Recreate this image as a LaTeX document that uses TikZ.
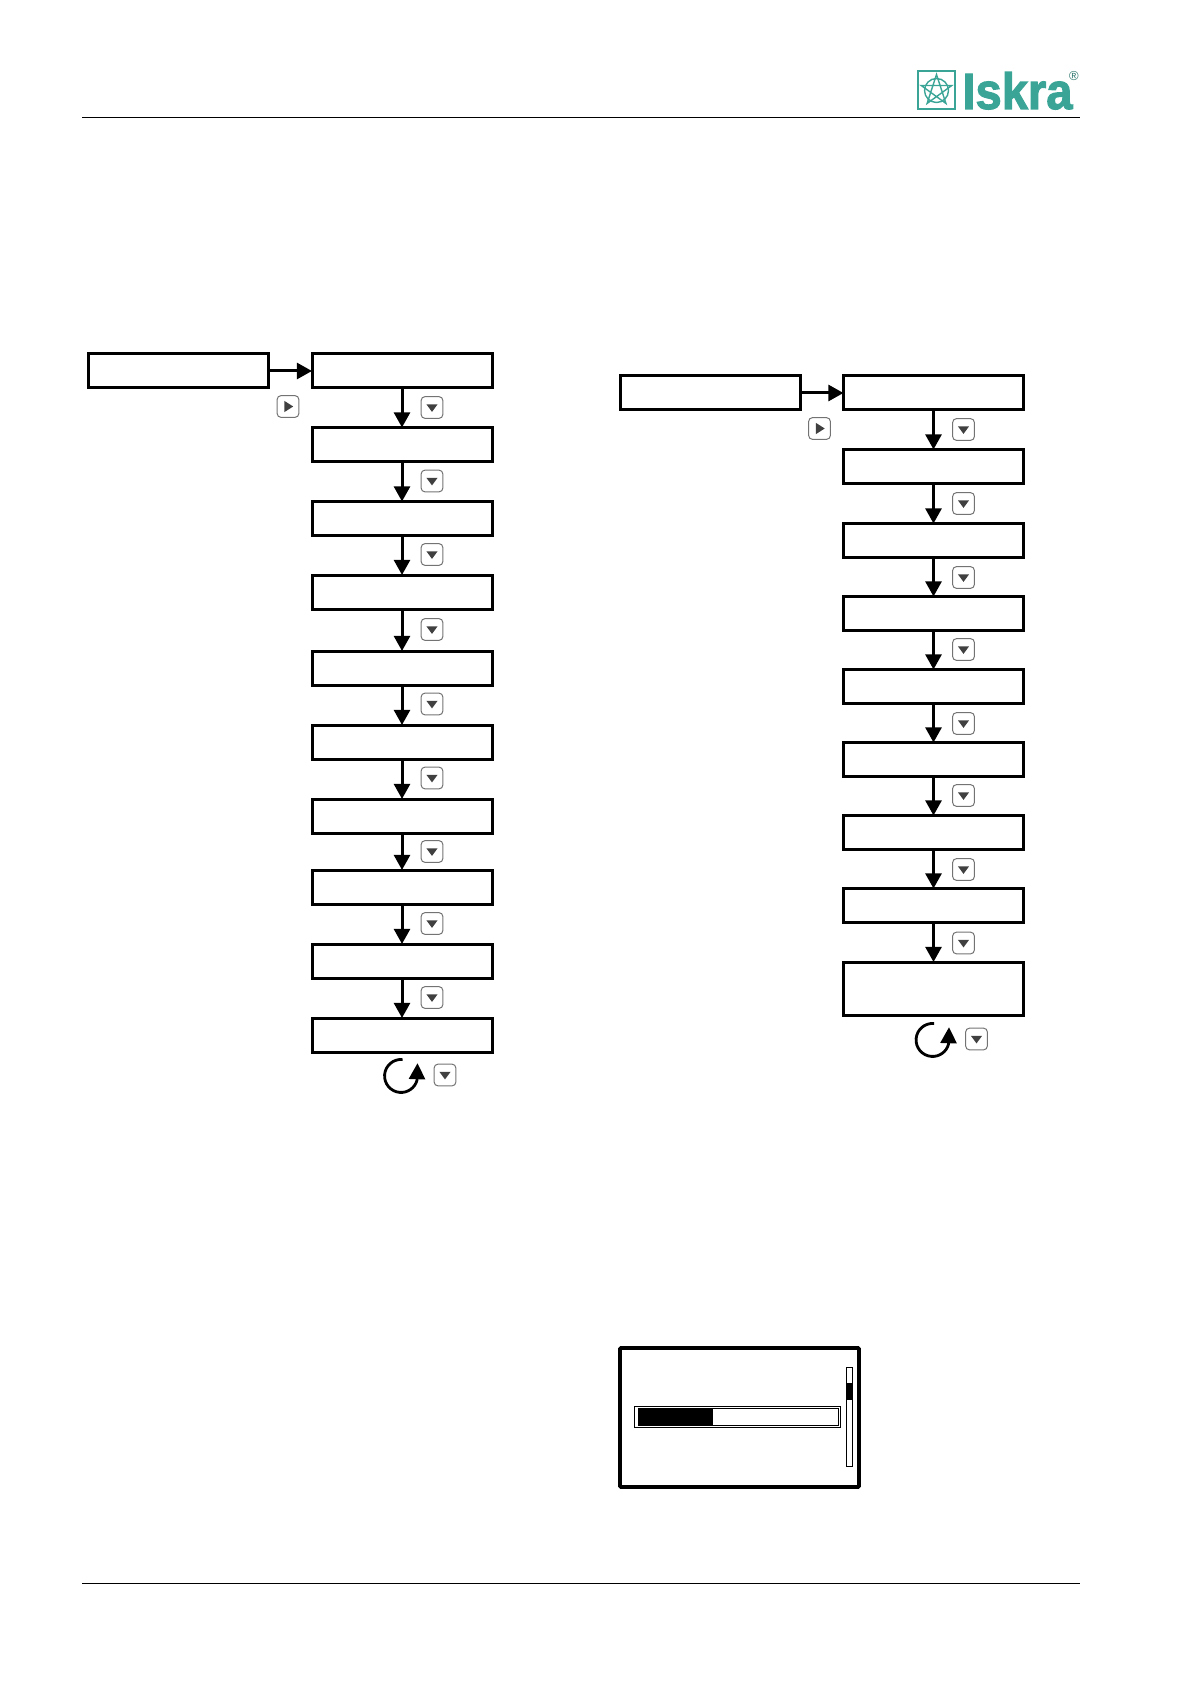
\documentclass[tikz,border=0pt]{standalone}
\usepackage{fontspec}
\setmainfont{Liberation Sans}
\newfontfamily\logofont[FakeBold=2.2]{Liberation Sans Bold}
\usetikzlibrary{arrows.meta}
\definecolor{iskragreen}{HTML}{3AA597}
\definecolor{keygray}{HTML}{404040}
\tikzset{
	menubox/.style={draw, line width=1.5pt, anchor=north west, inner sep=0pt, outer sep=0pt, minimum width=90pt, minimum height=17pt},
	keybox/.style={draw=black!55, line width=0.5pt, rounded corners=1.8pt, inner sep=0pt, minimum size=10.8pt},
	keydown/.style={keybox, path picture={\fill[keygray, sharp corners] ([xshift=-2.8pt,yshift=1.6pt]path picture bounding box.center) -- ++(5.6pt,0) -- ++(-2.8pt,-3.8pt) -- cycle;}},
	keyright/.style={keybox, path picture={\fill[keygray, sharp corners] ([xshift=-1.8pt,yshift=2.8pt]path picture bounding box.center) -- ++(0,-5.6pt) -- ++(4.4pt,2.8pt) -- cycle;}},
	flow/.style={-{Triangle[length=7.6pt,width=8pt]}, line width=1.5pt},
	curl/.style={-{Triangle[length=8pt,width=8pt]}, line width=1.4pt}
}
\begin{document}
\begin{tikzpicture}[x=0.5pt, y=-0.5pt]
	\useasboundingbox (0,0) rectangle (1191,1684);
	% header and footer
	\draw[line width=0.5pt] (82,117.5) -- (1080,117.5);
	\draw[line width=0.5pt] (82,1583) -- (1080,1583);
	% logo
	\draw[iskragreen, line width=0.7pt] (918,71) rectangle (955,109);
	\draw[iskragreen, line width=0.7pt] (936.5,90.5) circle (12);
	\draw[iskragreen, line width=0.7pt, shift={(936.5,90.5)}] (-90:16) -- (54:16) -- (198:16) -- (-18:16) -- (126:16) -- cycle;
	\node[iskragreen, font=\logofont\fontsize{25.5}{25.5}\selectfont, anchor=base west, inner sep=0pt, xscale=0.925] (logotext) at (962,109) {Iskra};
	\node[iskragreen!70!black, font=\fontsize{6.5}{6.5}\selectfont, inner sep=0pt] (logomark) at (1074,76) {®};
	% left menu
	\node[menubox] (l0) at (88,354) {};
	\node[menubox] (l1) at (312,354) {};
	\node[menubox] (l2) at (312,427.5) {};
	\node[menubox] (l3) at (312,501.5) {};
	\node[menubox] (l4) at (312,575) {};
	\node[menubox] (l5) at (312,651) {};
	\node[menubox] (l6) at (312,725) {};
	\node[menubox] (l7) at (312,799) {};
	\node[menubox] (l8) at (312,870) {};
	\node[menubox] (l9) at (312,944) {};
	\node[menubox] (l10) at (312,1018) {};
	\draw[flow] (l0) -- (l1);
	\draw[flow] (l1) -- (l2);
	\draw[flow] (l2) -- (l3);
	\draw[flow] (l3) -- (l4);
	\draw[flow] (l4) -- (l5);
	\draw[flow] (l5) -- (l6);
	\draw[flow] (l6) -- (l7);
	\draw[flow] (l7) -- (l8);
	\draw[flow] (l8) -- (l9);
	\draw[flow] (l9) -- (l10);
	\node[keyright] (kl0) at (288,406.5) {};
	\node[keydown] (kl1) at (432,407.5) {};
	\node[keydown] (kl2) at (432,481) {};
	\node[keydown] (kl3) at (432,554.5) {};
	\node[keydown] (kl4) at (432,629.5) {};
	\node[keydown] (kl5) at (432,704) {};
	\node[keydown] (kl6) at (432,778) {};
	\node[keydown] (kl7) at (432,851.5) {};
	\node[keydown] (kl8) at (432,923.5) {};
	\node[keydown] (kl9) at (432,997.5) {};
	\node[keydown] (kl10) at (445,1075) {};
	\draw[curl] (402.5,1059.5) arc (-85:-345:16.5) -- ++(0.5,-17);
	% right menu
	\node[menubox] (r0) at (620,376) {};
	\node[menubox] (r1) at (843.5,376) {};
	\node[menubox] (r2) at (843.5,449.5) {};
	\node[menubox] (r3) at (843.5,523.5) {};
	\node[menubox] (r4) at (843.5,596.5) {};
	\node[menubox] (r5) at (843.5,669.5) {};
	\node[menubox] (r6) at (843.5,742.5) {};
	\node[menubox] (r7) at (843.5,815.5) {};
	\node[menubox] (r8) at (843.5,888.5) {};
	\node[menubox, minimum height=26.5pt] (r9) at (843.5,962) {};
	\draw[flow] (r0) -- (r1);
	\draw[flow] (r1) -- (r2);
	\draw[flow] (r2) -- (r3);
	\draw[flow] (r3) -- (r4);
	\draw[flow] (r4) -- (r5);
	\draw[flow] (r5) -- (r6);
	\draw[flow] (r6) -- (r7);
	\draw[flow] (r7) -- (r8);
	\draw[flow] (r8) -- (r9);
	\node[keyright] (kr0) at (819.5,428.5) {};
	\node[keydown] (kr1) at (963.5,429.5) {};
	\node[keydown] (kr2) at (963.5,503.5) {};
	\node[keydown] (kr3) at (963.5,577.5) {};
	\node[keydown] (kr4) at (963.5,649.5) {};
	\node[keydown] (kr5) at (963.5,723.5) {};
	\node[keydown] (kr6) at (963.5,795.5) {};
	\node[keydown] (kr7) at (963.5,869.5) {};
	\node[keydown] (kr8) at (963.5,943) {};
	\node[keydown] (kr9) at (976.5,1039) {};
	\draw[curl] (934,1023.5) arc (-85:-345:16.5) -- ++(0.5,-17);
	% display with progress bar
	\draw[line width=1.9pt, rounded corners=0.5pt] (620,1348) rectangle (859,1487);
	\draw[line width=0.5pt] (634,1406) rectangle (840.5,1427);
	\fill (638,1408) rectangle (713,1425);
	\draw[line width=0.5pt] (638,1408) rectangle (838.5,1425);
	\draw[line width=0.5pt] (846.5,1367) rectangle (852.5,1466);
	\fill (846.5,1383) rectangle (852.5,1400);
\end{tikzpicture}
\end{document}
